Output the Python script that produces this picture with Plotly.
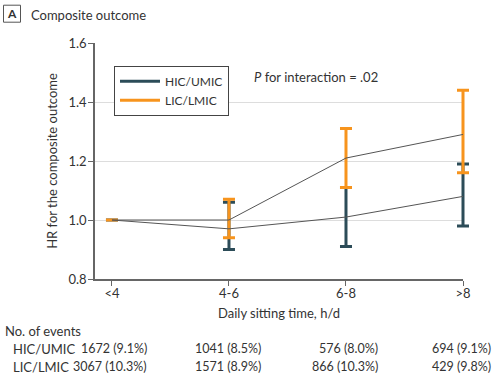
import plotly.graph_objects as go

categories = ["<4", "4-6", "6-8", ">8"]
hic_hr = [1.00, 0.97, 1.01, 1.08]
hic_lo = [1.00, 0.90, 0.91, 0.98]
hic_hi = [1.00, 1.06, 1.11, 1.19]
lic_hr = [1.00, 1.00, 1.21, 1.29]
lic_lo = [1.00, 0.94, 1.11, 1.16]
lic_hi = [1.00, 1.07, 1.31, 1.44]
hic_events = ["1672 (9.1%)", "1041 (8.5%)", "576 (8.0%)", "694 (9.1%)"]
lic_events = ["3067 (10.3%)", "1571 (8.9%)", "866 (10.3%)", "429 (9.8%)"]

DARK = "#2c4c58"
ORANGE = "#f7941d"
LINEC = "#555555"
TXT = "#333333"
FONT = "Lato"

xs = list(range(len(categories)))

# plot area in pixels (visible axes end at R, data layer extends to R2)
L, R, R2, T, B = 95, 463, 471, 43.3, 279.3
W, W2, H = R - L, R2 - L, B - T
X0, X1 = -0.145, 3.0
X1b = X0 + W2 * (X1 - X0) / W

def px(x):
    return (x - L) / W2
def py(y):
    return (B - y) / H

fig = go.Figure()

def err_trace(y, lo, hi, color):
    return go.Scatter(
        x=xs, y=y, mode="markers", marker=dict(size=1, color=color, opacity=0),
        error_y=dict(type="data", symmetric=False,
                     array=[h - v for h, v in zip(hi, y)],
                     arrayminus=[v - l for v, l in zip(y, lo)],
                     color=color, thickness=3, width=6),
        showlegend=False, hoverinfo="skip", xaxis="x2", yaxis="y2")

fig.add_trace(go.Scatter(x=[None], y=[None], mode="lines", name="HIC/UMIC",
                         line=dict(color=DARK, width=3)))
fig.add_trace(go.Scatter(x=[None], y=[None], mode="lines", name="LIC/LMIC",
                         line=dict(color=ORANGE, width=3)))
fig.add_trace(err_trace(hic_hr, hic_lo, hic_hi, DARK))
fig.add_trace(err_trace(lic_hr, lic_lo, lic_hi, ORANGE))
fig.add_trace(go.Scatter(x=xs, y=hic_hr, mode="lines", line=dict(color=LINEC, width=1),
                         showlegend=False, hoverinfo="skip", xaxis="x2", yaxis="y2"))
fig.add_trace(go.Scatter(x=xs, y=lic_hr, mode="lines", line=dict(color=LINEC, width=1),
                         showlegend=False, hoverinfo="skip", xaxis="x2", yaxis="y2"))

ann = []
def add(x, y, text, anchor="left", size=13):
    ann.append(dict(x=px(x), y=py(y), xref="paper", yref="paper", text=text,
                    showarrow=False, xanchor=anchor, yanchor="middle",
                    font=dict(size=size, color=TXT)))

add(29, 15, "Composite outcome")
add(11.5, 14, "<b>A</b>", "center", 12)
add(252, 77, "<i>P</i> for interaction = .02")
add(3, 331, "No. of events")
add(11, 349, "HIC/UMIC")
add(11, 367, "LIC/LMIC")
col_right = [149, 263, 380, 493]
for i in range(4):
    add(col_right[i], 349, hic_events[i], "right", 12.5)
    add(col_right[i], 367, lic_events[i], "right", 12.5)

shapes = [dict(type="rect", xref="paper", yref="paper", x0=px(3.5), x1=px(20.5),
               y0=py(22.5), y1=py(5.5), line=dict(color="#555555", width=1))]

fig.update_layout(
    width=499, height=381,
    margin=dict(l=L, r=499 - R2, t=T, b=381 - B),
    paper_bgcolor="white", plot_bgcolor="rgba(0,0,0,0)",
    font=dict(family=FONT, size=13, color=TXT),
    annotations=ann, shapes=shapes,
    legend=dict(x=px(114), y=py(66), xanchor="left", yanchor="top",
                bordercolor="#444444", borderwidth=1, bgcolor="white",
                font=dict(size=12, color=TXT), itemwidth=40, tracegroupgap=0),
    xaxis=dict(domain=[0, W / W2], range=[X0, X1], tickvals=xs, ticktext=categories,
               showgrid=False, zeroline=False, showline=True, linecolor="#666666",
               linewidth=1.5, ticks="outside", ticklen=5, tickcolor="#666666",
               ticklabelstandoff=-3,
               title=dict(text="Daily sitting time, h/d", font=dict(size=13), standoff=9),
               tickfont=dict(size=13)),
    yaxis=dict(range=[0.8, 1.6], tickvals=[0.8, 1.0, 1.2, 1.4, 1.6],
               ticktext=["0.8", "1.0", "1.2", "1.4", "1.6"],
               showgrid=True, gridcolor="#dddddd", gridwidth=1, zeroline=False,
               showline=True, linecolor="#666666", linewidth=1.5,
               ticks="outside", ticklen=5, tickcolor="#666666",
               ticklabelstandoff=-1,
               title=dict(text="HR for the composite outcome", font=dict(size=13), standoff=8),
               tickfont=dict(size=13)),
    xaxis2=dict(domain=[0, 1], range=[X0, X1b], visible=False, anchor="y2"),
    yaxis2=dict(domain=[0, 1], range=[0.8, 1.6], visible=False, anchor="x2"),
)

fig.write_html("out.html", config={"displayModeBar": False},
               post_script="document.body.style.margin='0';")
